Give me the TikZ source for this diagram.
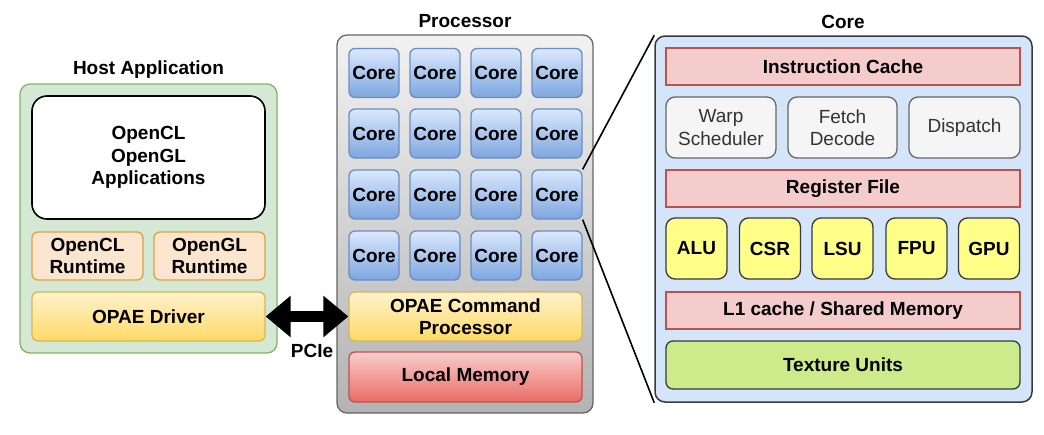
\documentclass[tikz,border=0pt]{standalone}
\usepackage{fontspec}
\setmainfont{Liberation Sans}
\usetikzlibrary{arrows.meta,shadings}
\definecolor{hostfill}{HTML}{D5E8D4}
\definecolor{hostdraw}{HTML}{82B366}
\definecolor{orfill}{HTML}{FCE5CF}
\definecolor{ordraw}{HTML}{D9A441}
\definecolor{yltop}{HTML}{FFF2CC}
\definecolor{ylbot}{HTML}{FFD966}
\definecolor{yldraw}{HTML}{D6B656}
\definecolor{grtop}{HTML}{F2F2F2}
\definecolor{grbot}{HTML}{B3B3B3}
\definecolor{grdraw}{HTML}{666666}
\definecolor{bltop}{HTML}{DAE8FC}
\definecolor{blbot}{HTML}{7EA6E0}
\definecolor{bldraw}{HTML}{6C8EBF}
\definecolor{rdtop}{HTML}{F8CECC}
\definecolor{rdbot}{HTML}{EA6B66}
\definecolor{rddraw}{HTML}{B85450}
\definecolor{corefill}{HTML}{D4E5FA}
\definecolor{darkline}{HTML}{36393D}
\definecolor{pinkfill}{HTML}{F4CCCC}
\definecolor{lightgr}{HTML}{F5F5F5}
\definecolor{unitfill}{HTML}{FFFF88}
\definecolor{texfill}{HTML}{CDEB8B}
\definecolor{txtgray}{HTML}{333333}
\tikzset{
  base/.style={inner sep=0pt, align=center, line width=1.3pt,
    font=\fontsize{19}{22.5}\selectfont\bfseries},
  title/.style={font=\fontsize{19}{22.5}\selectfont\bfseries, inner sep=0pt},
  hostbox/.style={base, draw=hostdraw, fill=hostfill, rounded corners=10pt},
  appbox/.style={base, draw=black, fill=white, rounded corners=15pt, line width=1.6pt},
  rtbox/.style={base, draw=ordraw, fill=orfill, rounded corners=6pt},
  ylbox/.style={base, draw=yldraw, top color=yltop, bottom color=ylbot, rounded corners=6pt},
  procbox/.style={base, draw=grdraw, top color=grtop, bottom color=grbot, rounded corners=10pt},
  corecell/.style={base, draw=bldraw, top color=bltop, bottom color=blbot, rounded corners=6pt,
    minimum width=50pt, minimum height=49pt, font=\fontsize{19}{22}\selectfont\bfseries},
  membox/.style={base, draw=rddraw, top color=rdtop, bottom color=rdbot, rounded corners=6pt},
  corebox/.style={base, draw=darkline, fill=corefill, rounded corners=10pt, line width=1.5pt},
  pinkbar/.style={base, draw=rddraw, fill=pinkfill, minimum width=354pt, minimum height=37pt},
  graybox/.style={base, draw=grdraw, fill=lightgr, rounded corners=9pt, minimum height=61pt,
    text=txtgray, font=\fontsize{19}{22.5}\selectfont},
  unitbox/.style={base, draw=darkline, fill=unitfill, rounded corners=9pt, minimum width=61pt, minimum height=61pt},
  texbox/.style={base, draw=darkline, fill=texfill, rounded corners=7pt, minimum width=354pt, minimum height=48pt},
  zoomline/.style={line width=1.6pt, black},
  bus/.style={line width=11pt, {Triangle[length=25pt 0 0,width=40pt 0 0]}-{Triangle[length=25pt 0 0,width=40pt 0 0]}}
}
\begin{document}
\begin{tikzpicture}[x=1pt,y=-1pt]
\useasboundingbox (0,0) rectangle (1044,434);
% Host application
\node[title] (hosttitle) at (148.5,70) {Host Application};
\node[hostbox, minimum width=257pt, minimum height=269pt] (host) at (148.5,218.5) {};
\node[appbox, minimum width=233pt, minimum height=123pt] (apps) at (148.5,157.5) {OpenCL\\OpenGL\\Applications};
\node[rtbox, minimum width=111pt, minimum height=48pt] (oclrt) at (87.5,256) {OpenCL\\Runtime};
\node[rtbox, minimum width=111pt, minimum height=48pt] (oglrt) at (209.5,256) {OpenGL\\Runtime};
\node[ylbox, minimum width=233pt, minimum height=49pt] (drv) at (148.5,316.5) {OPAE Driver};
% Processor
\node[title] (proctitle) at (465,21) {Processor};
\node[procbox, minimum width=256pt, minimum height=378pt] (proc) at (465,224) {};
\foreach \r/\y in {0/73,1/133.5,2/194.5,3/255.5}{
  \foreach \c/\x in {0/374,1/435,2/496,3/557}{
    \node[corecell] (c\r\c) at (\x,\y) {Core};
  }
}
\node[ylbox, minimum width=233pt, minimum height=49pt] (ocp) at (465.5,316.5) {OPAE Command\\Processor};
\node[membox, minimum width=233pt, minimum height=50pt] (lmem) at (465.5,377) {Local Memory};
% PCIe link
\draw[bus] (drv.east) -- (ocp.west);
\node[title] (pcie) at (312,351) {PCIe};
% Core detail
\node[title] (coretitle) at (843,22) {Core};
\node[corebox, minimum width=377pt, minimum height=366pt] (core) at (843.5,219) {};
\node[pinkbar] (icache) at (843,66.5) {Instruction Cache};
\node[graybox, minimum width=110pt] (warp) at (721,127.5) {Warp\\Scheduler};
\node[graybox, minimum width=109pt] (fetch) at (842.5,127.5) {Fetch\\Decode};
\node[graybox, minimum width=111pt] (disp) at (964.5,127.5) {Dispatch};
\node[pinkbar] (regf) at (843,188.5) {Register File};
\node[unitbox] (alu) at (696.5,248.5) {ALU};
\node[unitbox] (csr) at (770,248.5) {CSR};
\node[unitbox] (lsu) at (842.5,248.5) {LSU};
\node[unitbox] (fpu) at (916.5,248.5) {FPU};
\node[unitbox] (gpu) at (989,248.5) {GPU};
\node[pinkbar] (l1) at (843,310.5) {L1 cache / Shared Memory};
\node[texbox] (tex) at (843,365) {Texture Units};
% zoom lines
\draw[zoomline] (c23.north east) -- (core.north west);
\draw[zoomline] (c23.south east) -- (core.south west);
\end{tikzpicture}
\end{document}
